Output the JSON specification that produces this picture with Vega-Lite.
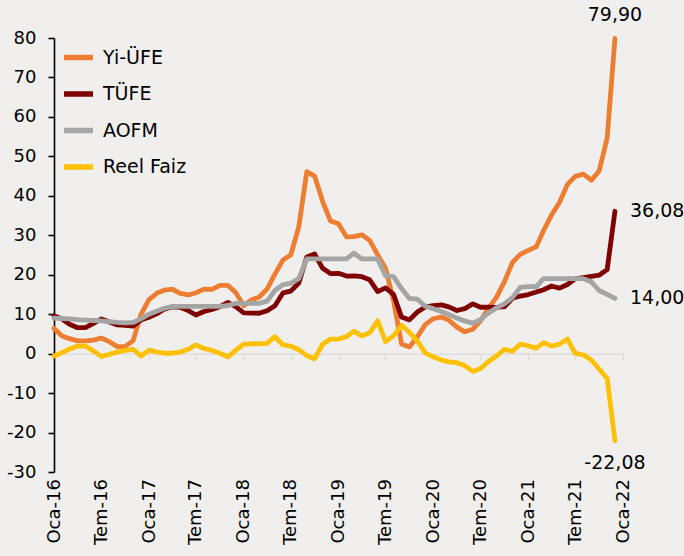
{
  "$schema": "https://vega.github.io/schema/vega-lite/v6.json",
  "width": 569,
  "height": 434,
  "autosize": {"type": "none"},
  "padding": {"left": 54, "top": 38, "right": 61, "bottom": 84},
  "background": "#F1EFED",
  "config": {
    "view": {"stroke": null},
    "font": "DejaVu Sans",
    "locale": {"number": {"decimal": ",", "thousands": ".", "grouping": [3], "currency": ["", ""], "minus": "-"}}
  },
  "datasets": {
    "veri": [
      {"t": "2016-01-01", "Yi-ÜFE": 6.40, "TÜFE": 9.58, "AOFM": 9.0, "Reel Faiz": -0.6},
      {"t": "2016-02-01", "Yi-ÜFE": 4.47, "TÜFE": 8.78, "AOFM": 8.9, "Reel Faiz": 0.2},
      {"t": "2016-03-01", "Yi-ÜFE": 3.80, "TÜFE": 7.46, "AOFM": 8.8, "Reel Faiz": 1.2},
      {"t": "2016-04-01", "Yi-ÜFE": 3.25, "TÜFE": 6.57, "AOFM": 8.6, "Reel Faiz": 1.9},
      {"t": "2016-05-01", "Yi-ÜFE": 3.25, "TÜFE": 6.58, "AOFM": 8.5, "Reel Faiz": 1.9},
      {"t": "2016-06-01", "Yi-ÜFE": 3.41, "TÜFE": 7.64, "AOFM": 8.4, "Reel Faiz": 0.7},
      {"t": "2016-07-01", "Yi-ÜFE": 3.96, "TÜFE": 8.79, "AOFM": 8.3, "Reel Faiz": -0.7},
      {"t": "2016-08-01", "Yi-ÜFE": 3.03, "TÜFE": 8.05, "AOFM": 8.1, "Reel Faiz": -0.2},
      {"t": "2016-09-01", "Yi-ÜFE": 1.78, "TÜFE": 7.28, "AOFM": 7.9, "Reel Faiz": 0.4},
      {"t": "2016-10-01", "Yi-ÜFE": 1.84, "TÜFE": 7.16, "AOFM": 7.8, "Reel Faiz": 0.8},
      {"t": "2016-11-01", "Yi-ÜFE": 3.31, "TÜFE": 7.00, "AOFM": 7.9, "Reel Faiz": 1.1},
      {"t": "2016-12-01", "Yi-ÜFE": 9.94, "TÜFE": 8.53, "AOFM": 8.8, "Reel Faiz": -0.6},
      {"t": "2017-01-01", "Yi-ÜFE": 13.69, "TÜFE": 9.22, "AOFM": 10.0, "Reel Faiz": 0.9},
      {"t": "2017-02-01", "Yi-ÜFE": 15.36, "TÜFE": 10.13, "AOFM": 10.8, "Reel Faiz": 0.4},
      {"t": "2017-03-01", "Yi-ÜFE": 16.09, "TÜFE": 11.29, "AOFM": 11.5, "Reel Faiz": 0.1},
      {"t": "2017-04-01", "Yi-ÜFE": 16.37, "TÜFE": 11.87, "AOFM": 11.9, "Reel Faiz": 0.1},
      {"t": "2017-05-01", "Yi-ÜFE": 15.26, "TÜFE": 11.72, "AOFM": 12.0, "Reel Faiz": 0.4},
      {"t": "2017-06-01", "Yi-ÜFE": 14.87, "TÜFE": 10.90, "AOFM": 12.0, "Reel Faiz": 1.1},
      {"t": "2017-07-01", "Yi-ÜFE": 15.45, "TÜFE": 9.79, "AOFM": 12.0, "Reel Faiz": 2.2},
      {"t": "2017-08-01", "Yi-ÜFE": 16.34, "TÜFE": 10.68, "AOFM": 12.0, "Reel Faiz": 1.3},
      {"t": "2017-09-01", "Yi-ÜFE": 16.28, "TÜFE": 11.20, "AOFM": 12.0, "Reel Faiz": 0.8},
      {"t": "2017-10-01", "Yi-ÜFE": 17.28, "TÜFE": 11.90, "AOFM": 12.0, "Reel Faiz": 0.1},
      {"t": "2017-11-01", "Yi-ÜFE": 17.30, "TÜFE": 12.98, "AOFM": 12.2, "Reel Faiz": -0.8},
      {"t": "2017-12-01", "Yi-ÜFE": 15.47, "TÜFE": 11.92, "AOFM": 12.75, "Reel Faiz": 0.8},
      {"t": "2018-01-01", "Yi-ÜFE": 12.14, "TÜFE": 10.35, "AOFM": 12.75, "Reel Faiz": 2.4},
      {"t": "2018-02-01", "Yi-ÜFE": 13.71, "TÜFE": 10.26, "AOFM": 12.75, "Reel Faiz": 2.5},
      {"t": "2018-03-01", "Yi-ÜFE": 14.28, "TÜFE": 10.23, "AOFM": 12.75, "Reel Faiz": 2.5},
      {"t": "2018-04-01", "Yi-ÜFE": 16.37, "TÜFE": 10.85, "AOFM": 13.3, "Reel Faiz": 2.6},
      {"t": "2018-05-01", "Yi-ÜFE": 20.16, "TÜFE": 12.15, "AOFM": 16.0, "Reel Faiz": 4.3},
      {"t": "2018-06-01", "Yi-ÜFE": 23.71, "TÜFE": 15.39, "AOFM": 17.5, "Reel Faiz": 2.2},
      {"t": "2018-07-01", "Yi-ÜFE": 25.00, "TÜFE": 15.85, "AOFM": 17.8, "Reel Faiz": 1.9},
      {"t": "2018-08-01", "Yi-ÜFE": 32.13, "TÜFE": 17.90, "AOFM": 19.0, "Reel Faiz": 1.0},
      {"t": "2018-09-01", "Yi-ÜFE": 46.15, "TÜFE": 24.52, "AOFM": 24.0, "Reel Faiz": -0.5},
      {"t": "2018-10-01", "Yi-ÜFE": 45.01, "TÜFE": 25.24, "AOFM": 24.0, "Reel Faiz": -1.3},
      {"t": "2018-11-01", "Yi-ÜFE": 38.54, "TÜFE": 21.62, "AOFM": 24.0, "Reel Faiz": 2.4},
      {"t": "2018-12-01", "Yi-ÜFE": 33.64, "TÜFE": 20.30, "AOFM": 24.0, "Reel Faiz": 3.7},
      {"t": "2019-01-01", "Yi-ÜFE": 32.93, "TÜFE": 20.35, "AOFM": 24.0, "Reel Faiz": 3.7},
      {"t": "2019-02-01", "Yi-ÜFE": 29.59, "TÜFE": 19.67, "AOFM": 24.0, "Reel Faiz": 4.3},
      {"t": "2019-03-01", "Yi-ÜFE": 29.64, "TÜFE": 19.71, "AOFM": 25.5, "Reel Faiz": 5.7},
      {"t": "2019-04-01", "Yi-ÜFE": 30.12, "TÜFE": 19.50, "AOFM": 24.0, "Reel Faiz": 4.5},
      {"t": "2019-05-01", "Yi-ÜFE": 28.71, "TÜFE": 18.71, "AOFM": 24.0, "Reel Faiz": 5.3},
      {"t": "2019-06-01", "Yi-ÜFE": 25.04, "TÜFE": 15.72, "AOFM": 24.0, "Reel Faiz": 8.3},
      {"t": "2019-07-01", "Yi-ÜFE": 21.66, "TÜFE": 16.65, "AOFM": 19.75, "Reel Faiz": 3.1},
      {"t": "2019-08-01", "Yi-ÜFE": 13.45, "TÜFE": 15.01, "AOFM": 19.5, "Reel Faiz": 4.5},
      {"t": "2019-09-01", "Yi-ÜFE": 2.45, "TÜFE": 9.26, "AOFM": 16.5, "Reel Faiz": 7.2},
      {"t": "2019-10-01", "Yi-ÜFE": 1.70, "TÜFE": 8.55, "AOFM": 14.0, "Reel Faiz": 5.4},
      {"t": "2019-11-01", "Yi-ÜFE": 4.26, "TÜFE": 10.56, "AOFM": 13.8, "Reel Faiz": 3.2},
      {"t": "2019-12-01", "Yi-ÜFE": 7.36, "TÜFE": 11.84, "AOFM": 12.0, "Reel Faiz": 0.2},
      {"t": "2020-01-01", "Yi-ÜFE": 8.84, "TÜFE": 12.15, "AOFM": 11.4, "Reel Faiz": -0.8},
      {"t": "2020-02-01", "Yi-ÜFE": 9.26, "TÜFE": 12.37, "AOFM": 10.7, "Reel Faiz": -1.6},
      {"t": "2020-03-01", "Yi-ÜFE": 8.50, "TÜFE": 11.86, "AOFM": 9.9, "Reel Faiz": -2.1},
      {"t": "2020-04-01", "Yi-ÜFE": 6.71, "TÜFE": 10.94, "AOFM": 9.0, "Reel Faiz": -2.3},
      {"t": "2020-05-01", "Yi-ÜFE": 5.53, "TÜFE": 11.39, "AOFM": 8.3, "Reel Faiz": -3.0},
      {"t": "2020-06-01", "Yi-ÜFE": 6.17, "TÜFE": 12.62, "AOFM": 7.7, "Reel Faiz": -4.5},
      {"t": "2020-07-01", "Yi-ÜFE": 8.33, "TÜFE": 11.76, "AOFM": 8.6, "Reel Faiz": -3.8},
      {"t": "2020-08-01", "Yi-ÜFE": 11.53, "TÜFE": 11.77, "AOFM": 10.3, "Reel Faiz": -2.0},
      {"t": "2020-09-01", "Yi-ÜFE": 14.33, "TÜFE": 11.75, "AOFM": 11.6, "Reel Faiz": -0.6},
      {"t": "2020-10-01", "Yi-ÜFE": 18.20, "TÜFE": 11.89, "AOFM": 12.6, "Reel Faiz": 1.1},
      {"t": "2020-11-01", "Yi-ÜFE": 23.11, "TÜFE": 14.03, "AOFM": 14.2, "Reel Faiz": 0.6},
      {"t": "2020-12-01", "Yi-ÜFE": 25.15, "TÜFE": 14.60, "AOFM": 16.8, "Reel Faiz": 2.4},
      {"t": "2021-01-01", "Yi-ÜFE": 26.16, "TÜFE": 14.97, "AOFM": 17.0, "Reel Faiz": 2.0},
      {"t": "2021-02-01", "Yi-ÜFE": 27.09, "TÜFE": 15.61, "AOFM": 17.0, "Reel Faiz": 1.4},
      {"t": "2021-03-01", "Yi-ÜFE": 31.20, "TÜFE": 16.19, "AOFM": 19.0, "Reel Faiz": 2.8},
      {"t": "2021-04-01", "Yi-ÜFE": 35.17, "TÜFE": 17.14, "AOFM": 19.0, "Reel Faiz": 1.9},
      {"t": "2021-05-01", "Yi-ÜFE": 38.33, "TÜFE": 16.59, "AOFM": 19.0, "Reel Faiz": 2.4},
      {"t": "2021-06-01", "Yi-ÜFE": 42.89, "TÜFE": 17.53, "AOFM": 19.0, "Reel Faiz": 3.7},
      {"t": "2021-07-01", "Yi-ÜFE": 44.92, "TÜFE": 18.95, "AOFM": 19.0, "Reel Faiz": 0.1},
      {"t": "2021-08-01", "Yi-ÜFE": 45.52, "TÜFE": 19.25, "AOFM": 19.0, "Reel Faiz": -0.3},
      {"t": "2021-09-01", "Yi-ÜFE": 43.96, "TÜFE": 19.58, "AOFM": 18.2, "Reel Faiz": -1.6},
      {"t": "2021-10-01", "Yi-ÜFE": 46.31, "TÜFE": 19.89, "AOFM": 16.0, "Reel Faiz": -3.9},
      {"t": "2021-11-01", "Yi-ÜFE": 54.62, "TÜFE": 21.31, "AOFM": 15.0, "Reel Faiz": -6.3},
      {"t": "2021-12-01", "Yi-ÜFE": 79.90, "TÜFE": 36.08, "AOFM": 14.0, "Reel Faiz": -22.08}
    ],
    "etiket": [
      {"t": "2021-12-01", "seri": "Yi-ÜFE", "deger": 79.90},
      {"t": "2021-12-01", "seri": "TÜFE", "deger": 36.08},
      {"t": "2021-12-01", "seri": "AOFM", "deger": 14.00},
      {"t": "2021-12-01", "seri": "Reel Faiz", "deger": -22.08}
    ]
  },
  "encoding": {
    "x": {
      "field": "t", "type": "temporal",
      "scale": {"type": "utc", "domain": [{"year": 2016, "month": 1, "date": 1, "utc": true}, {"year": 2022, "month": 1, "date": 1, "utc": true}]},
      "axis": {
        "values": [
          {"year": 2016, "month": 1, "date": 1, "utc": true}, {"year": 2016, "month": 7, "date": 1, "utc": true},
          {"year": 2017, "month": 1, "date": 1, "utc": true}, {"year": 2017, "month": 7, "date": 1, "utc": true},
          {"year": 2018, "month": 1, "date": 1, "utc": true}, {"year": 2018, "month": 7, "date": 1, "utc": true},
          {"year": 2019, "month": 1, "date": 1, "utc": true}, {"year": 2019, "month": 7, "date": 1, "utc": true},
          {"year": 2020, "month": 1, "date": 1, "utc": true}, {"year": 2020, "month": 7, "date": 1, "utc": true},
          {"year": 2021, "month": 1, "date": 1, "utc": true}, {"year": 2021, "month": 7, "date": 1, "utc": true},
          {"year": 2022, "month": 1, "date": 1, "utc": true}
        ],
        "labelExpr": "(utcmonth(datum.value) == 0 ? 'Oca-' : 'Tem-') + utcFormat(datum.value, '%y')",
        "labelAngle": -90,
        "labelFontSize": 18,
        "labelColor": "#000000",
        "labelPadding": 119,
        "labelFlush": false,
        "labelOverlap": false,
        "offset": -118.4,
        "domainColor": "#D9D9D9",
        "domainWidth": 1.2,
        "tickColor": "#D9D9D9",
        "tickWidth": 1.2,
        "tickSize": 6,
        "grid": false,
        "title": null
      }
    },
    "y": {
      "field": "deger", "type": "quantitative",
      "scale": {"domain": [-30, 80], "nice": false, "zero": false},
      "axis": {
        "values": [-30, -20, -10, 0, 10, 20, 30, 40, 50, 60, 70, 80],
        "format": "d",
        "labelFontSize": 18,
        "labelColor": "#000000",
        "labelPadding": 12,
        "labelOverlap": false,
        "labelFlush": false,
        "labelBound": false,
        "ticks": true,
        "tickSize": 6,
        "tickColor": "#000000",
        "tickWidth": 1.6,
        "domainColor": "#000000",
        "domainWidth": 1.6,
        "grid": false,
        "title": null
      }
    }
  },
  "layer": [
    {
      "data": {"name": "veri"},
      "transform": [{"fold": ["Yi-ÜFE", "TÜFE", "AOFM", "Reel Faiz"], "as": ["seri", "deger"]}],
      "mark": {"type": "line", "strokeWidth": 4.8, "strokeCap": "round", "strokeJoin": "round"},
      "encoding": {
        "color": {
          "field": "seri", "type": "nominal",
          "scale": {"domain": ["Yi-ÜFE", "TÜFE", "AOFM", "Reel Faiz"], "range": ["#ED7D31", "#7F0000", "#A5A5A5", "#FFC000"]},
          "legend": {
            "title": null,
            "orient": "none",
            "legendX": 7,
            "legendY": 2,
            "padding": 0,
            "symbolType": "stroke",
            "symbolStrokeWidth": 5.5,
            "symbolSize": 841,
            "labelFontSize": 19,
            "labelColor": "#000000",
            "labelOffset": 7,
            "rowPadding": 7.5
          }
        }
      }
    },
    {
      "data": {"name": "etiket"},
      "transform": [{"filter": "datum.seri == 'Yi-ÜFE'"}],
      "mark": {"type": "text", "align": "center", "baseline": "bottom", "dy": -13, "fontSize": 19, "color": "#000000"},
      "encoding": {
        "text": {"field": "deger", "type": "quantitative", "format": ",.2f"}
      }
    },
    {
      "data": {"name": "etiket"},
      "transform": [{"filter": "datum.seri == 'TÜFE' || datum.seri == 'AOFM'"}],
      "mark": {"type": "text", "align": "left", "baseline": "middle", "dx": 15, "fontSize": 19, "color": "#000000"},
      "encoding": {
        "text": {"field": "deger", "type": "quantitative", "format": ",.2f"}
      }
    },
    {
      "data": {"name": "etiket"},
      "transform": [{"filter": "datum.seri == 'Reel Faiz'"}],
      "mark": {"type": "text", "align": "center", "baseline": "top", "dy": 13, "fontSize": 19, "color": "#000000"},
      "encoding": {
        "text": {"field": "deger", "type": "quantitative", "format": ",.2f"}
      }
    }
  ]
}
